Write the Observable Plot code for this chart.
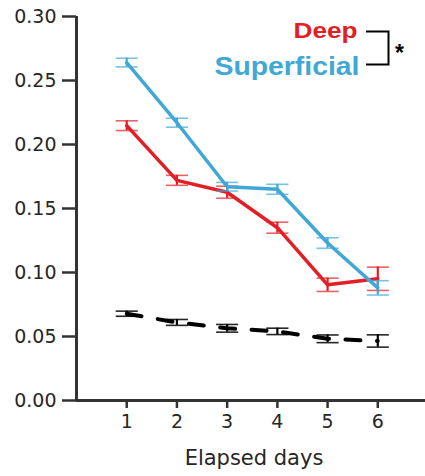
<!DOCTYPE html>
<html>
<head>
<meta charset="utf-8">
<script src="https://cdn.jsdelivr.net/npm/d3@7"></script>
<script src="https://cdn.jsdelivr.net/npm/@observablehq/plot@0.6"></script>
<style>
  html, body { margin: 0; padding: 0; background: #fff; }
  #chart svg { display: block; }
</style>
</head>
<body>
<div id="chart"></div>
<script>
// ---- data ----
const days = [1, 2, 3, 4, 5, 6];
const superficialMean = [0.264, 0.217, 0.167, 0.165, 0.123, 0.088];
const superficialErr  = [0.0034, 0.0035, 0.0034, 0.0039, 0.0041, 0.0056];
const deepMean        = [0.2147, 0.172, 0.1627, 0.135, 0.0904, 0.0951];
const deepErr         = [0.0038, 0.0039, 0.0047, 0.0043, 0.0052, 0.0091];
const shuffledMean    = [0.0678, 0.061, 0.0564, 0.054, 0.0482, 0.0465];
const shuffledErr     = [0.002, 0.0023, 0.003, 0.0025, 0.003, 0.0048];
const yTicks = [0, 0.05, 0.10, 0.15, 0.20, 0.25, 0.30];
const xLabel = "Elapsed days";
const legendNames = ["Deep", "Superficial"];
const significance = "*";

const RED = "#e31e24", BLUE = "#41a8d5", BLACK = "#000";
const rows = (means, errs, series) => days.map((d, i) => ({day: d, mean: means[i], err: errs[i], series}));
const sup = rows(superficialMean, superficialErr, "Superficial");
const deep = rows(deepMean, deepErr, "Deep");
const shuf = rows(shuffledMean, shuffledErr, "Shuffled");

const capHalf = 0.22;
function errMarks(data, color, capOpacity) {
  return [
    Plot.ruleX(data, {x: "day", y1: d => d.mean - d.err, y2: d => d.mean + d.err, stroke: color, strokeWidth: 2.2}),
    Plot.link(data, {x1: d => d.day - capHalf, x2: d => d.day + capHalf, y1: d => d.mean + d.err, y2: d => d.mean + d.err, stroke: color, strokeWidth: 1.6, strokeOpacity: capOpacity}),
    Plot.link(data, {x1: d => d.day - capHalf, x2: d => d.day + capHalf, y1: d => d.mean - d.err, y2: d => d.mean - d.err, stroke: color, strokeWidth: 1.6, strokeOpacity: capOpacity})
  ];
}

const bracket = (index, scales, values, dims) => {
  const g = d3.create("svg:g");
  g.append("path")
    .attr("d", "M366,31.5H388.5V64.5H366")
    .attr("fill", "none").attr("stroke", "#000").attr("stroke-width", 2);
  return g.node();
};

const plot = Plot.plot({
  width: 425,
  height: 476,
  marginLeft: 76,
  marginRight: 0,
  marginTop: 16,
  marginBottom: 76,
  style: {fontFamily: "DejaVu Sans", color: "#262626", background: "#fff"},
  x: {domain: [0, 6.95], range: [76, 425]},
  y: {domain: [0, 0.3]},
  marks: [
    Plot.axisY({ticks: yTicks, tickFormat: d3.format(".2f"), tickSize: 14, tickPadding: 6, fontSize: 19, strokeWidth: 2.5, stroke: "#333", label: null}),
    Plot.axisX({ticks: days, tickFormat: d => d, tickSize: 8, tickPadding: 6, fontSize: 19, strokeWidth: 2.5, stroke: "#333", label: null}),
    Plot.ruleX([0], {y1: 0, y2: 0.3, stroke: "#333", strokeWidth: 3}),
    Plot.ruleY([0], {x1: 0, x2: 6.95, stroke: "#333", strokeWidth: 3}),
    Plot.text([xLabel], {frameAnchor: "bottom", textAnchor: "middle", lineAnchor: "top", dx: 3, dy: 50, fontSize: 21, fill: "#262626", text: d => d}),
    ...errMarks(shuf, BLACK, 0.85),
    Plot.line(shuf, {x: "day", y: "mean", stroke: BLACK, strokeWidth: 4, strokeDasharray: "15,16.5"}),
    ...errMarks(deep, RED, 0.7),
    Plot.line(deep, {x: "day", y: "mean", stroke: RED, strokeWidth: 3.5}),
    ...errMarks(sup, BLUE, 0.7),
    Plot.line(sup, {x: "day", y: "mean", stroke: BLUE, strokeWidth: 3.5}),
    Plot.text([legendNames[0]], {frameAnchor: "top-left", dx: 281, dy: 21, textAnchor: "end", lineAnchor: "bottom", fontSize: 22, fontWeight: "bold", fontFamily: "Liberation Sans", fill: RED, text: d => d, className: "leg-deep"}),
    Plot.text([legendNames[1]], {frameAnchor: "top-left", dx: 283, dy: 58, textAnchor: "end", lineAnchor: "bottom", fontSize: 26, fontWeight: "bold", fontFamily: "Liberation Sans", fill: BLUE, text: d => d, className: "leg-sup"}),
    bracket,
    Plot.text([significance], {frameAnchor: "top-left", dx: 323, dy: 37, textAnchor: "middle", lineAnchor: "middle", fontSize: 23, fontWeight: "bold", fontFamily: "Liberation Sans", fill: "#000", text: d => d})
  ]
});
document.getElementById("chart").appendChild(plot);
d3.select(plot).selectAll(".leg-deep text").attr("textLength", 64).attr("lengthAdjust", "spacingAndGlyphs");
d3.select(plot).selectAll(".leg-sup text").attr("textLength", 145).attr("lengthAdjust", "spacingAndGlyphs");
</script>
</body>
</html>
